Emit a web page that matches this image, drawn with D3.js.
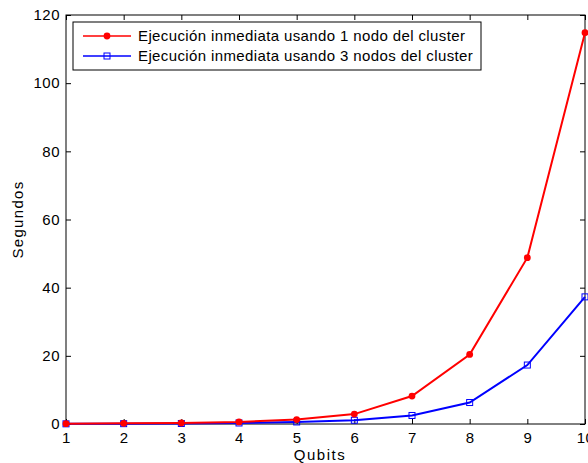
<!DOCTYPE html>
<html>
<head>
<meta charset="utf-8">
<script src="https://cdn.jsdelivr.net/npm/d3@7"></script>
<style>
  body { margin: 0; background: #fff; }
  svg { display: block; font-family: "Liberation Sans", Arial, sans-serif; }
</style>
</head>
<body>
<div id="chart"></div>
<script>
// data
const qubits = [1, 2, 3, 4, 5, 6, 7, 8, 9, 10];
const oneNode = [0.1, 0.2, 0.3, 0.6, 1.3, 2.9, 8.2, 20.4, 48.8, 114.8];
const threeNodes = [0.05, 0.1, 0.15, 0.3, 0.6, 1.1, 2.5, 6.3, 17.3, 37.3];
const yTicks = [0, 20, 40, 60, 80, 100, 120];
const labels = ['Ejecución inmediata usando 1 nodo del cluster', 'Ejecución inmediata usando 3 nodos del cluster'];

const width = 588, height = 463;
const margin = { top: 15, right: 3, bottom: 39, left: 66 };
const plotW = width - margin.left - margin.right;
const plotH = height - margin.top - margin.bottom;

const svg = d3.select('#chart').append('svg')
    .attr('width', width)
    .attr('height', height);

const g = svg.append('g')
    .attr('transform', `translate(${margin.left},${margin.top})`);

const x = d3.scaleLinear().domain([1, 10]).range([0, plotW]);
const y = d3.scaleLinear().domain([0, 120]).range([plotH, 0]);

// axes, matlab style: ticks inward on all four sides
const styleAxis = sel => {
    sel.select('.domain').remove();
    sel.selectAll('line').attr('stroke', '#000');
    sel.selectAll('text').attr('fill', '#000')
        .style('font-size', '15px').style('letter-spacing', '0.5px');
};

g.append('g').attr('transform', `translate(0,${plotH})`)
    .call(d3.axisBottom(x).tickValues(qubits).tickFormat(d3.format('d')).tickSizeInner(-5).tickPadding(8))
    .call(styleAxis);
g.append('g')
    .call(d3.axisTop(x).tickValues(qubits).tickFormat('').tickSizeInner(-5))
    .call(styleAxis);
g.append('g')
    .call(d3.axisLeft(y).tickValues(yTicks).tickSizeInner(-5).tickPadding(6))
    .call(styleAxis);
g.append('g').attr('transform', `translate(${plotW},0)`)
    .call(d3.axisRight(y).tickValues(yTicks).tickFormat('').tickSizeInner(-5))
    .call(styleAxis);

g.append('rect')
    .attr('width', plotW).attr('height', plotH)
    .attr('fill', 'none').attr('stroke', '#000').attr('stroke-width', 1);

const line = d3.line().x((d, i) => x(qubits[i])).y(d => y(d));

// blue series: open squares
g.append('path').datum(threeNodes)
    .attr('fill', 'none').attr('stroke', '#0000ff').attr('stroke-width', 2)
    .attr('d', line);
g.selectAll('rect.sq').data(threeNodes).join('rect')
    .attr('class', 'sq')
    .attr('x', (d, i) => x(qubits[i]) - 3).attr('y', d => y(d) - 3)
    .attr('width', 6).attr('height', 6)
    .attr('fill', 'none').attr('stroke', '#0000ff').attr('stroke-width', 1);

// red series: filled circles
g.append('path').datum(oneNode)
    .attr('fill', 'none').attr('stroke', '#ff0000').attr('stroke-width', 2)
    .attr('d', line);
g.selectAll('circle.dot').data(oneNode).join('circle')
    .attr('class', 'dot')
    .attr('cx', (d, i) => x(qubits[i])).attr('cy', d => y(d))
    .attr('r', 3.4)
    .attr('fill', '#ff0000');

// axis titles
svg.append('text')
    .attr('x', 320).attr('y', 460)
    .attr('text-anchor', 'middle')
    .style('font-size', '15px').style('letter-spacing', '1.5px')
    .text('Qubits');
svg.append('text')
    .attr('transform', `translate(23,${margin.top + plotH / 2}) rotate(-90)`)
    .attr('text-anchor', 'middle')
    .style('font-size', '15px').style('letter-spacing', '1.3px')
    .text('Segundos');

// legend
const legend = svg.append('g').attr('transform', 'translate(73,22)');
legend.append('rect')
    .attr('width', 408).attr('height', 48)
    .attr('fill', '#fff').attr('stroke', '#000').attr('stroke-width', 1);

const items = legend.selectAll('g.item').data(labels).join('g')
    .attr('class', 'item')
    .attr('transform', (d, i) => `translate(0,${14 + i * 20})`);
items.append('line')
    .attr('x1', 10).attr('x2', 58)
    .attr('stroke', (d, i) => i === 0 ? '#ff0000' : '#0000ff')
    .attr('stroke-width', 1.5);
items.filter((d, i) => i === 0).append('circle')
    .attr('cx', 34).attr('r', 3.4).attr('fill', '#ff0000');
items.filter((d, i) => i === 1).append('rect')
    .attr('x', 31).attr('y', -3).attr('width', 6).attr('height', 6)
    .attr('fill', 'none').attr('stroke', '#0000ff');
items.append('text')
    .attr('x', 65).attr('dy', '0.35em')
    .style('font-size', '15px').style('letter-spacing', '0.38px')
    .text(d => d);
</script>
</body>
</html>
